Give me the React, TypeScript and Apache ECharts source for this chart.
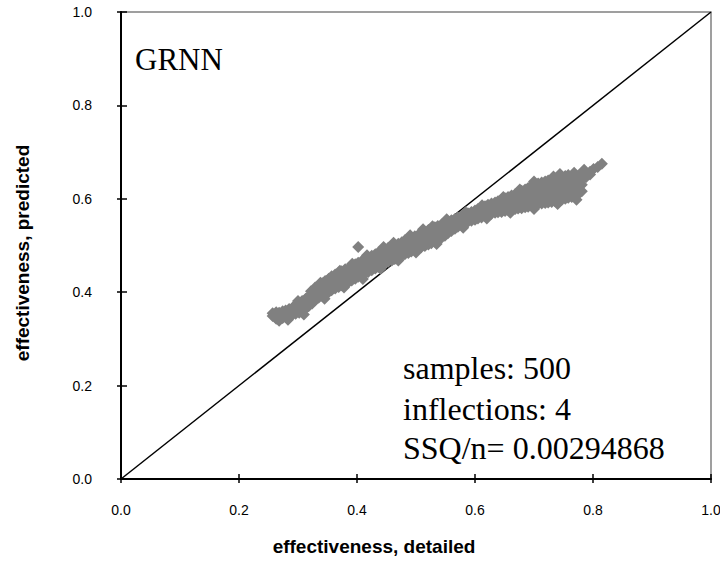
import React, { useEffect, useRef } from "react";
import * as echarts from "echarts";

const xTicks = [0, 0.2, 0.4, 0.6, 0.8, 1.0];
const diagonal: [number, number][] = [[0, 0], [1, 1]];
const modelName = "GRNN";
const annotations = ["samples: 500", "inflections: 4", "SSQ/n= 0.00294868"];
const xTitle = "effectiveness, detailed";
const yTitle = "effectiveness, predicted";

// [detailed value, predicted values at that detailed value]
const columns: [number, number[]][] = [
  [0.257, [0.349, 0.355]],
  [0.263, [0.343, 0.351, 0.357]],
  [0.268, [0.339, 0.348, 0.356]],
  [0.274, [0.345, 0.352, 0.359]],
  [0.279, [0.347, 0.355, 0.361]],
  [0.285, [0.349, 0.357, 0.364]],
  [0.291, [0.352, 0.36, 0.367]],
  [0.296, [0.354, 0.362, 0.371]],
  [0.302, [0.356, 0.366, 0.377]],
  [0.307, [0.36, 0.37, 0.381]],
  [0.313, [0.365, 0.375, 0.386]],
  [0.318, [0.37, 0.38, 0.391]],
  [0.324, [0.376, 0.386, 0.397]],
  [0.329, [0.383, 0.392, 0.403, 0.41]],
  [0.335, [0.388, 0.397, 0.407, 0.414]],
  [0.341, [0.392, 0.402, 0.411, 0.419]],
  [0.346, [0.396, 0.406, 0.415, 0.424]],
  [0.352, [0.4, 0.41, 0.419, 0.429]],
  [0.357, [0.404, 0.414, 0.423, 0.434]],
  [0.363, [0.408, 0.418, 0.428, 0.438]],
  [0.369, [0.411, 0.421, 0.432, 0.442]],
  [0.374, [0.415, 0.425, 0.435, 0.445]],
  [0.38, [0.418, 0.428, 0.439, 0.449]],
  [0.386, [0.422, 0.432, 0.442, 0.452]],
  [0.391, [0.425, 0.435, 0.446, 0.456]],
  [0.397, [0.429, 0.439, 0.449, 0.46]],
  [0.402, [0.433, 0.443, 0.453, 0.463, 0.497]],
  [0.408, [0.436, 0.446, 0.456, 0.467]],
  [0.414, [0.44, 0.45, 0.46, 0.47]],
  [0.419, [0.443, 0.453, 0.464, 0.474]],
  [0.425, [0.447, 0.457, 0.467, 0.478]],
  [0.431, [0.451, 0.461, 0.471, 0.481]],
  [0.436, [0.454, 0.464, 0.474, 0.485]],
  [0.442, [0.458, 0.468, 0.478, 0.489]],
  [0.447, [0.461, 0.471, 0.482, 0.492]],
  [0.453, [0.465, 0.475, 0.485, 0.495]],
  [0.459, [0.468, 0.478, 0.488, 0.498]],
  [0.464, [0.471, 0.481, 0.491, 0.501]],
  [0.47, [0.475, 0.485, 0.495, 0.504]],
  [0.476, [0.478, 0.488, 0.498, 0.507]],
  [0.481, [0.481, 0.491, 0.501, 0.511]],
  [0.487, [0.484, 0.494, 0.504, 0.514]],
  [0.492, [0.487, 0.497, 0.507, 0.517]],
  [0.498, [0.49, 0.5, 0.51, 0.52]],
  [0.504, [0.493, 0.503, 0.513, 0.523]],
  [0.509, [0.496, 0.506, 0.516, 0.526]],
  [0.515, [0.499, 0.509, 0.519, 0.529]],
  [0.521, [0.502, 0.512, 0.522, 0.533]],
  [0.526, [0.505, 0.515, 0.526, 0.536]],
  [0.532, [0.508, 0.518, 0.529, 0.539]],
  [0.537, [0.512, 0.522, 0.532, 0.542]],
  [0.543, [0.516, 0.526, 0.535, 0.545]],
  [0.549, [0.521, 0.53, 0.539, 0.548]],
  [0.554, [0.526, 0.534, 0.542, 0.551]],
  [0.56, [0.531, 0.538, 0.546, 0.554]],
  [0.566, [0.536, 0.542, 0.549, 0.557]],
  [0.571, [0.54, 0.546, 0.552, 0.56]],
  [0.577, [0.544, 0.55, 0.556, 0.563]],
  [0.583, [0.548, 0.554, 0.56, 0.566]],
  [0.588, [0.551, 0.557, 0.563, 0.569]],
  [0.594, [0.553, 0.559, 0.566, 0.572]],
  [0.6, [0.555, 0.562, 0.569, 0.575]],
  [0.605, [0.558, 0.565, 0.571, 0.578]],
  [0.611, [0.56, 0.567, 0.574, 0.581]],
  [0.617, [0.563, 0.57, 0.577, 0.584]],
  [0.622, [0.566, 0.572, 0.579, 0.587]],
  [0.628, [0.568, 0.575, 0.582, 0.59]],
  [0.634, [0.57, 0.577, 0.584, 0.592]],
  [0.639, [0.571, 0.579, 0.587, 0.595]],
  [0.645, [0.572, 0.581, 0.59, 0.598]],
  [0.651, [0.574, 0.583, 0.592, 0.601]],
  [0.656, [0.576, 0.585, 0.594, 0.604]],
  [0.662, [0.577, 0.587, 0.597, 0.607]],
  [0.668, [0.578, 0.589, 0.6, 0.61]],
  [0.673, [0.579, 0.591, 0.602, 0.614]],
  [0.679, [0.58, 0.592, 0.604, 0.617]],
  [0.685, [0.582, 0.594, 0.607, 0.62]],
  [0.69, [0.583, 0.596, 0.609, 0.623]],
  [0.696, [0.585, 0.598, 0.612, 0.626, 0.628]],
  [0.702, [0.587, 0.6, 0.615, 0.629, 0.631]],
  [0.707, [0.589, 0.597, 0.618, 0.631, 0.633]],
  [0.713, [0.59, 0.601, 0.614, 0.627, 0.635]],
  [0.719, [0.591, 0.604, 0.617, 0.63, 0.637]],
  [0.724, [0.592, 0.606, 0.619, 0.633, 0.639]],
  [0.73, [0.593, 0.608, 0.621, 0.635, 0.641]],
  [0.736, [0.594, 0.609, 0.623, 0.637, 0.643]],
  [0.741, [0.596, 0.611, 0.625, 0.639, 0.645]],
  [0.747, [0.598, 0.612, 0.626, 0.641, 0.647]],
  [0.753, [0.6, 0.614, 0.628, 0.643, 0.649]],
  [0.758, [0.602, 0.616, 0.63, 0.644, 0.651]],
  [0.764, [0.604, 0.618, 0.632, 0.646]],
  [0.77, [0.606, 0.62, 0.634, 0.648]],
  [0.775, [0.61, 0.624, 0.638, 0.65]],
  [0.781, [0.616, 0.63, 0.643, 0.653]],
  [0.788, [0.646, 0.655]],
  [0.795, [0.652, 0.658]],
  [0.801, [0.664]],
  [0.808, [0.668]],
  [0.815, [0.675]],
];

// samples sticking out of the band's upper and lower edges
const upperEdge: [number, number][] = [
  [0.3, 0.381], [0.322, 0.402], [0.338, 0.42], [0.371, 0.446], [0.392, 0.461],
  [0.417, 0.479], [0.445, 0.497], [0.462, 0.506], [0.49, 0.522], [0.512, 0.535],
  [0.528, 0.541], [0.552, 0.556], [0.584, 0.571], [0.612, 0.586], [0.648, 0.604],
  [0.676, 0.62], [0.7, 0.637], [0.733, 0.648], [0.744, 0.653], [0.768, 0.656],
  [0.785, 0.662],
];
const lowerEdge: [number, number][] = [
  [0.283, 0.341], [0.31, 0.352], [0.345, 0.386], [0.378, 0.41], [0.41, 0.428],
  [0.44, 0.45], [0.47, 0.468], [0.5, 0.485], [0.535, 0.503], [0.58, 0.538],
  [0.62, 0.558], [0.66, 0.57], [0.7, 0.578], [0.74, 0.589], [0.772, 0.598],
];

const points: [number, number][] = [
  ...columns.flatMap(([x, ys]) => ys.map((y) => [x, y] as [number, number])),
  ...upperEdge,
  ...lowerEdge,
];

const sans = "'Liberation Sans', Arial, sans-serif";
const serif = "'Liberation Serif', 'Times New Roman', serif";

export default function App() {
  const ref = useRef<HTMLDivElement>(null);
  useEffect(() => {
    if (!ref.current) return;
    const chart = echarts.init(ref.current, undefined, { renderer: "svg" });
    const baseAxis = {
      type: "value" as const,
      min: xTicks[0],
      max: xTicks[xTicks.length - 1],
      interval: 0.2,
      splitLine: { show: false },
    };
    chart.setOption({
      animation: false,
      backgroundColor: "#fff",
      grid: {
        left: 121,
        right: 9,
        top: 12,
        bottom: 82,
        show: true,
        borderColor: "#808080",
        borderWidth: 1.5,
        containLabel: false,
        outerBoundsMode: "none",
      },
      xAxis: [
        {
          ...baseAxis,
          position: "bottom",
          axisLine: { onZero: false, lineStyle: { color: "#000", width: 2 } },
          axisTick: { length: 4, lineStyle: { color: "#000", width: 1.5 } },
          axisLabel: {
            formatter: (v: number) => v.toFixed(1),
            fontSize: 14,
            fontFamily: sans,
            color: "#000",
            margin: 24,
          },
        },
        {
          ...baseAxis,
          position: "bottom",
          axisLine: { show: false, onZero: false },
          axisTick: { inside: true, length: 5, lineStyle: { color: "#000", width: 1.5 } },
          axisLabel: { show: false },
        },
      ],
      yAxis: [
        {
          ...baseAxis,
          position: "left",
          axisLine: { onZero: false, lineStyle: { color: "#000", width: 2 } },
          axisTick: { length: 4, lineStyle: { color: "#000", width: 1.5 } },
          axisLabel: {
            formatter: (v: number) => v.toFixed(1),
            fontSize: 14,
            fontFamily: sans,
            color: "#000",
            margin: 29,
            padding: [14, 0, 0, 0],
          },
        },
        {
          ...baseAxis,
          position: "left",
          axisLine: { show: false, onZero: false },
          axisTick: { inside: true, length: 6, lineStyle: { color: "#000", width: 1.5 } },
          axisLabel: { show: false },
        },
      ],
      series: [
        {
          type: "line",
          data: diagonal,
          xAxisIndex: 0,
          yAxisIndex: 0,
          symbol: "none",
          lineStyle: { color: "#000", width: 1.5 },
          z: 1,
          silent: true,
        },
        {
          type: "scatter",
          data: points,
          xAxisIndex: 0,
          yAxisIndex: 0,
          symbol: "diamond",
          symbolSize: 12,
          itemStyle: { color: "#808080", opacity: 1 },
          z: 2,
        },
      ],
      graphic: [
        {
          type: "text",
          left: 135,
          top: 44,
          style: { text: modelName, font: `31px ${serif}`, fill: "#000" },
        },
        ...annotations.map((t, i) => ({
          type: "text",
          x: 403,
          y: [368, 409, 448][i],
          style: {
            text: t,
            font: `32px ${serif}`,
            fill: "#000",
            verticalAlign: "middle",
            align: "left",
          },
        })),
        {
          type: "text",
          x: 374,
          y: 546,
          style: {
            text: xTitle,
            font: `bold 19px ${sans}`,
            fill: "#000",
            align: "center",
            verticalAlign: "middle",
          },
        },
        {
          type: "text",
          x: 22,
          y: 253,
          rotation: Math.PI / 2,
          style: {
            text: yTitle,
            font: `bold 19px ${sans}`,
            fill: "#000",
            align: "center",
            verticalAlign: "middle",
          },
        },
      ],
    });
    return () => chart.dispose();
  }, []);
  return (
    <div
      ref={ref}
      style={{ position: "fixed", left: 0, top: 0, width: 720, height: 561, background: "#fff" }}
    />
  );
}
